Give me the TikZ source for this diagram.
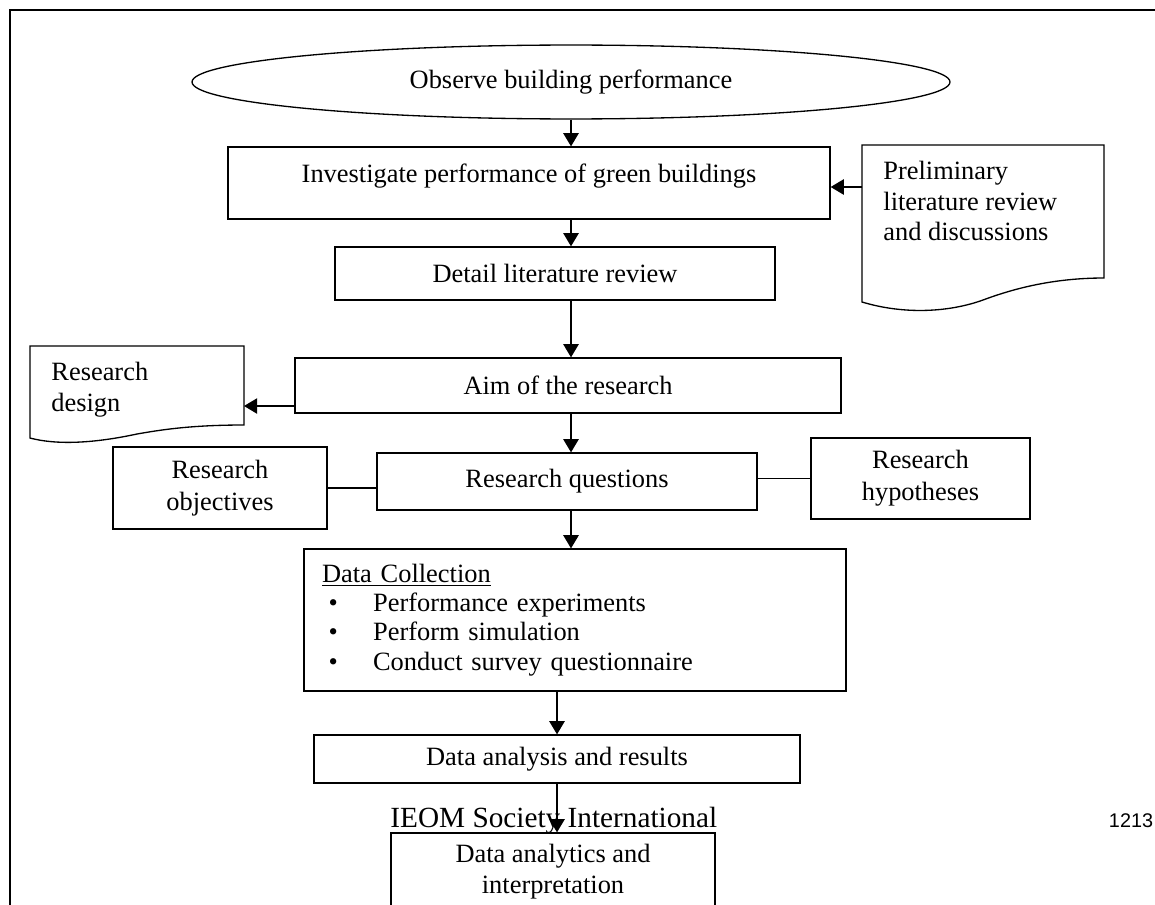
\documentclass[tikz,border=0pt]{standalone}
\usepackage{fontspec}
\setmainfont{Liberation Serif}
\newfontfamily\pagesans{Liberation Sans}
\usetikzlibrary{arrows.meta,shapes.geometric}
\begin{document}
\begin{tikzpicture}[x=0.4545pt,y=-0.4545pt,
  every node/.style={font=\fontsize{12}{13.8}\selectfont},
  box/.style={draw,line width=0.6pt,inner sep=0pt,align=center},
  arr/.style={line width=0.6pt,-{Triangle[length=6pt,width=7pt]}},
  link/.style={line width=0.6pt},
  docshape/.style={draw,line width=0.6pt},
  doctext/.style={anchor=north west,inner sep=0pt,align=left}]
\useasboundingbox (0,0) rectangle (1155,904);
\clip (0,0) rectangle (1155,904);
% page frame
\draw[line width=0.6pt] (10,920) -- (10,10) -- (1160,10);

% main flow
\node[box,ellipse,minimum width=344.5pt,minimum height=33.6pt] (obs) at (571,82) {Observe building performance};
\node[box,minimum width=273.6pt,minimum height=32.7pt,text depth=9pt] (inv) at (529,183) {Investigate performance of green buildings};
\node[box,minimum width=200pt,minimum height=24.1pt] (det) at (555,273.5) {Detail literature review};
\node[box,minimum width=248.2pt,minimum height=25pt] (aim) at (568,385.5) {Aim of the research};
\node[box,minimum width=172.7pt,minimum height=25.9pt] (rq) at (567,481.5) {Research questions};
\node[box,minimum width=97.3pt,minimum height=37.3pt,font=\fontsize{12}{14.4}\selectfont] (obj) at (220,488) {Research\\objectives};
\node[box,minimum width=99.5pt,minimum height=36.8pt,font=\fontsize{12}{14.4}\selectfont] (hyp) at (920.5,478.5) {Research\\hypotheses};
\node[box,minimum width=246.3pt,minimum height=64.5pt,inner xsep=8.2pt,text width=229.9pt,align=left,
      font=\fontsize{12}{13.3}\selectfont] (data) at (575,620)
  {\underline{Data Collection}\\
   \hspace*{3pt}\makebox[20.2pt][l]{\textbullet}Performance experiments\\
   \hspace*{3pt}\makebox[20.2pt][l]{\textbullet}Perform simulation\\
   \hspace*{3pt}\makebox[20.2pt][l]{\textbullet}Conduct survey questionnaire};
\node[box,minimum width=220.9pt,minimum height=21.8pt] (ana) at (557,759) {Data analysis and results};
\node[box,minimum width=147.3pt,minimum height=35pt] (interp) at (553,871.5) {Data analytics and\\interpretation};

% document shapes
\draw[docshape] (862,145) -- (1104,145) -- (1104,278)
  .. controls (1050,278) and (1010,290) .. (983,300)
  .. controls (950,312) and (905,315) .. (862,302) -- cycle;
\node[doctext] (prelim) at (883,161) {Preliminary\\literature review\\and discussions};
\coordinate (pa) at (862,187);

\draw[docshape] (30,346) -- (244,346) -- (244,425)
  .. controls (190,425) and (160,430) .. (137,434)
  .. controls (100,442) and (60,446) .. (30,438) -- cycle;
\node[doctext] (design) at (51,362) {Research\\design};
\coordinate (da) at (244,406);

% connectors
\draw[arr] (obs.south) -- (obs.south |- inv.north);
\draw[arr] (pa) -- (pa -| inv.east);
\draw[arr] (inv.south -| obs.south) -- (det.north -| obs.south);
\draw[arr] (det.south -| obs.south) -- (aim.north -| obs.south);
\draw[arr] (aim.west |- da) -- (da);
\draw[arr] (aim.south -| obs.south) -- (rq.north -| obs.south);
\draw[link] (obj.east) -- (obj.east -| rq.west);
\draw[link] (rq.east |- hyp.west) -- (hyp.west);
\draw[arr] (rq.south -| obs.south) -- (data.north -| obs.south);
\draw[arr] (data.south -| ana.north) -- (ana.north);
\draw[arr] (ana.south) -- (ana.south |- interp.north);

% footer texts
\node[anchor=west,inner sep=0pt,font=\fontsize{13.3}{15}\selectfont] (ieom) at (390,820) {IEOM Society International};
\node[inner sep=0pt,font=\pagesans\fontsize{9}{10}\selectfont] (pg) at (1131,821) {1213};
\end{tikzpicture}
\end{document}
